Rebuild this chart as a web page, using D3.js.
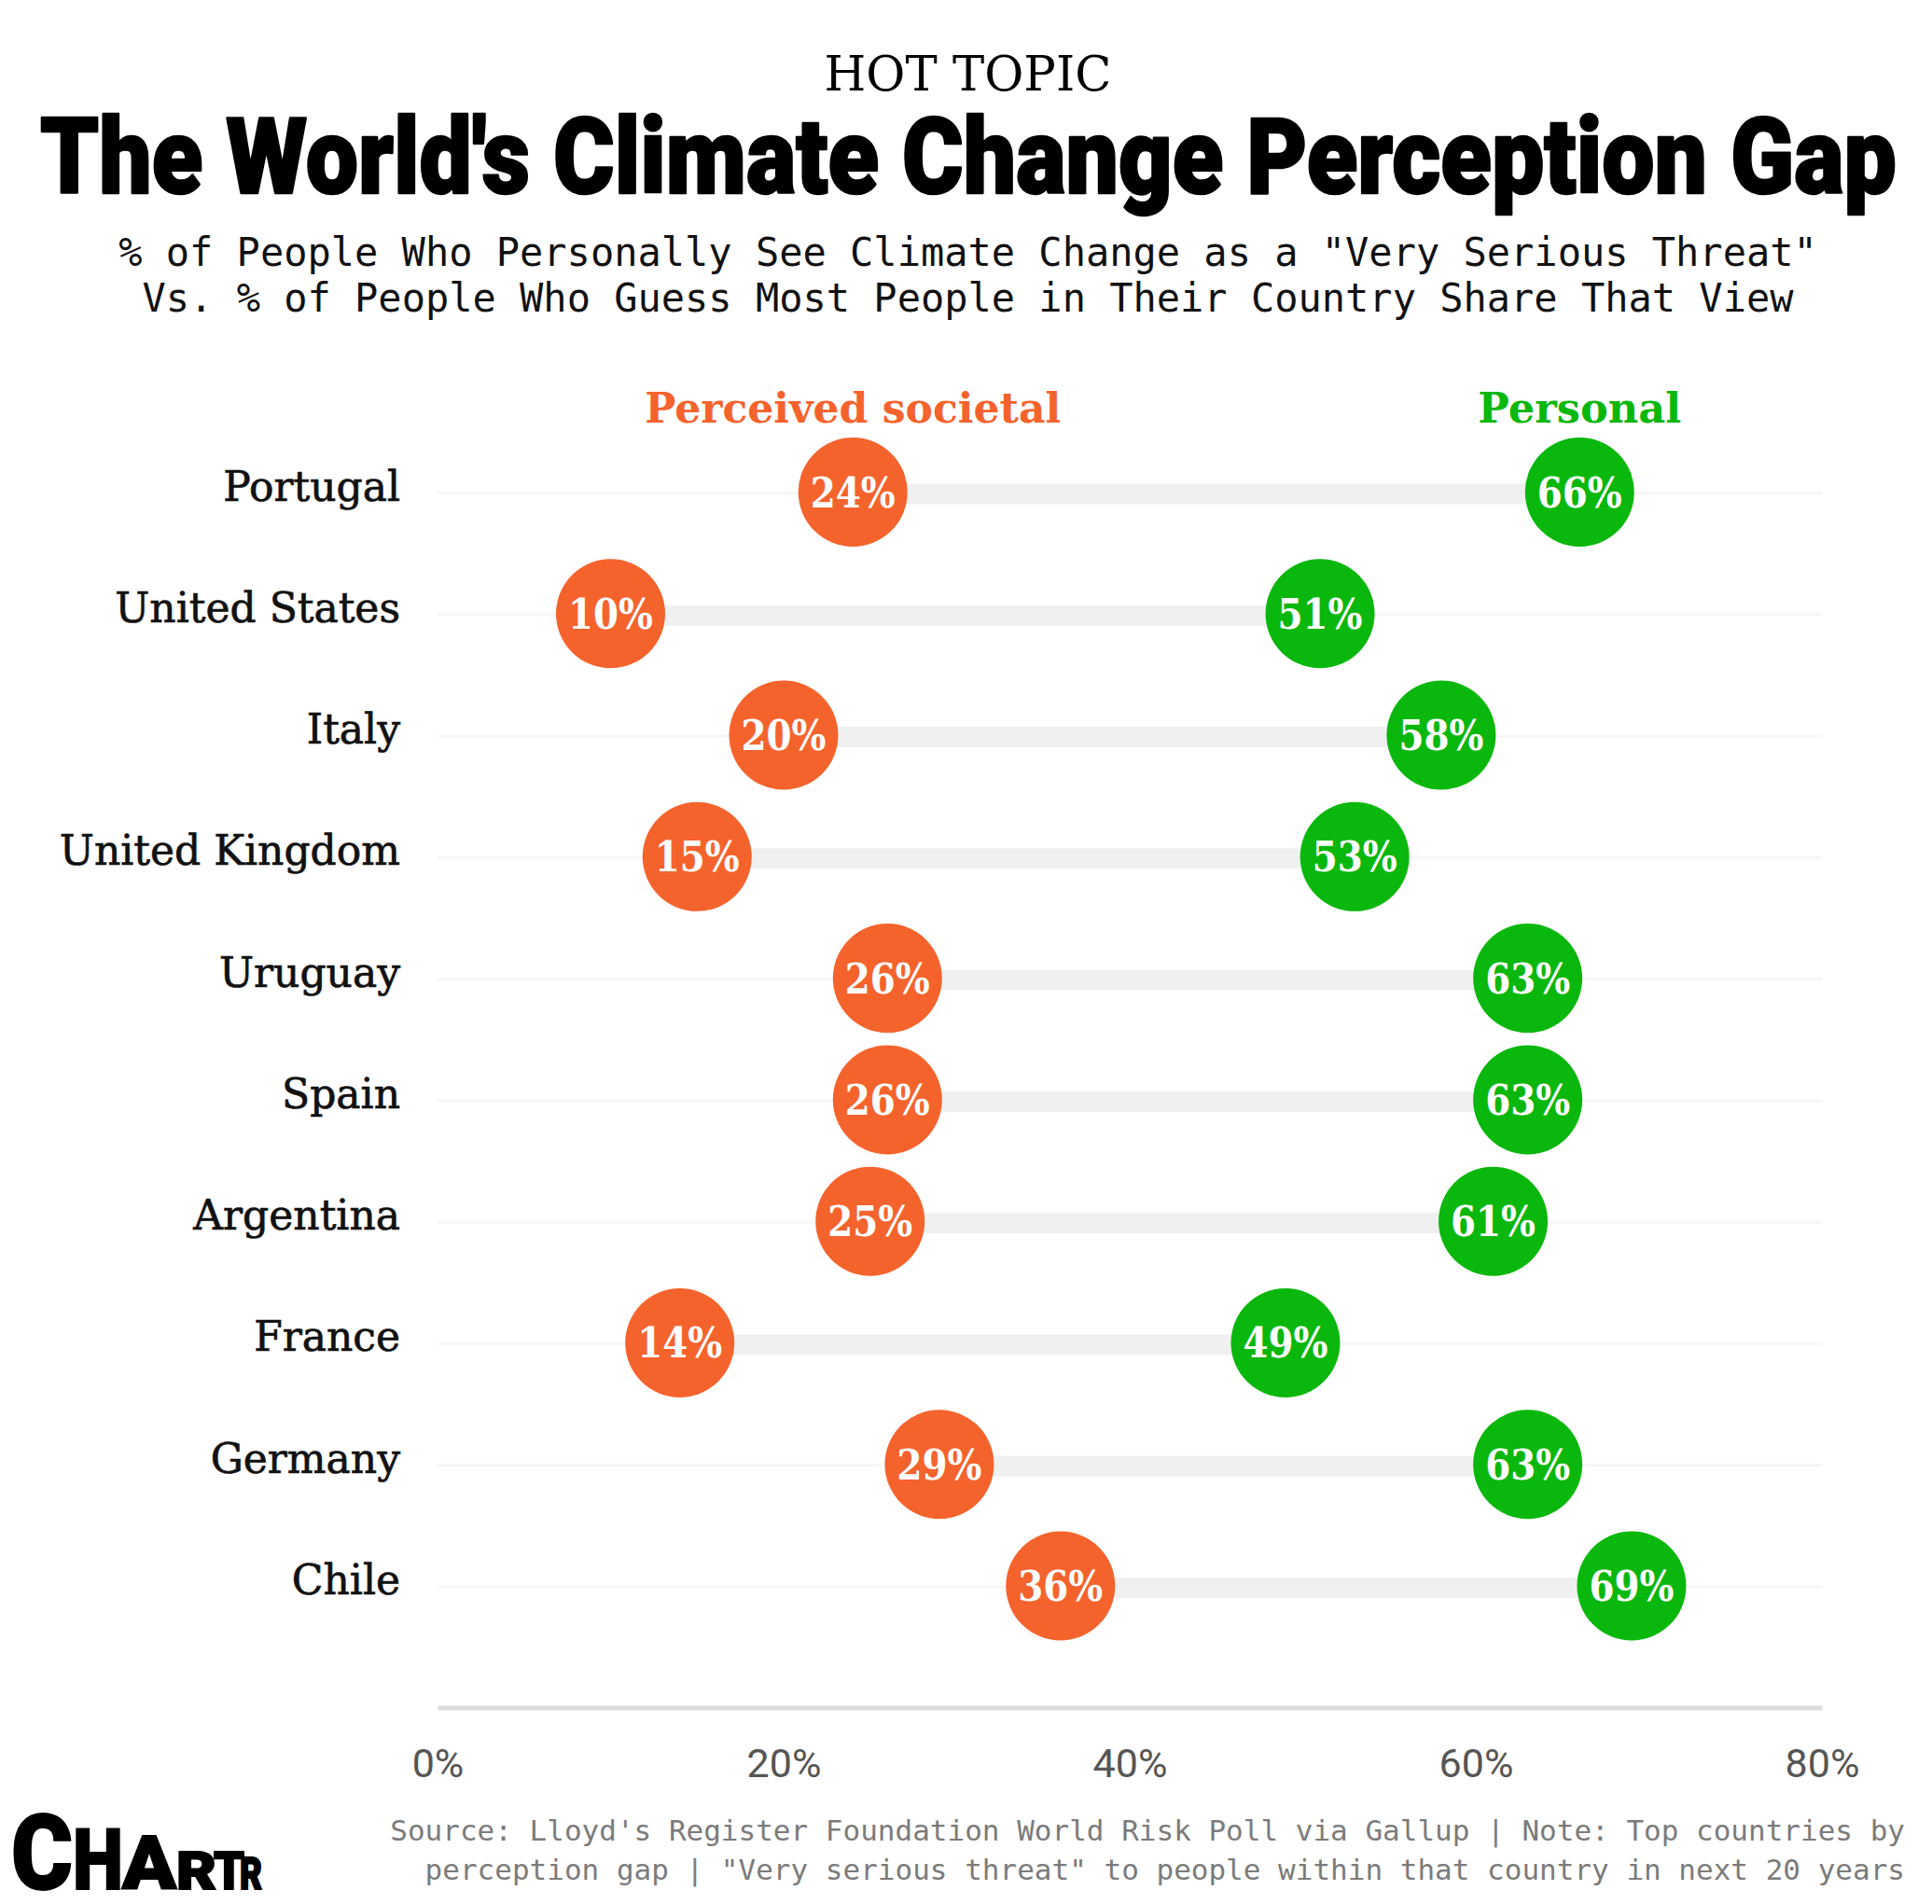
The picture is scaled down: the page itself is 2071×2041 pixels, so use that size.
<!DOCTYPE html>
<html>
<head>
<meta charset="utf-8">
<script src="https://cdn.jsdelivr.net/npm/d3@7"></script>
<style>
  body { margin: 0; background: #fff; }
  svg { display: block; }
</style>
</head>
<body>
<svg id="chart"></svg>
<script>
// data
const countries = ["Portugal", "United States", "Italy", "United Kingdom", "Uruguay",
                   "Spain", "Argentina", "France", "Germany", "Chile"];
const perceived = [24, 10, 20, 15, 26, 26, 25, 14, 29, 36];
const personal  = [66, 51, 58, 53, 63, 63, 61, 49, 63, 69];
const xTicks = [0, 20, 40, 60, 80];
const seriesNames = ["Perceived societal", "Personal"];

const ORANGE = "#f5632d";
const GREEN = "#0ab70c";

class DumbbellChart {

  constructor(config) {
    this.config = {
      parent: config.parent,
      width: config.width || 2071,
      height: config.height || 2041,
      x0: 469, x1: 1953,
      yTop: 527.5, yBottom: 1700,
      axisY: 1830.5,
      radius: 58.5
    }
    this.init()
  }

  init() {
    let self = this

    self.svg = d3.select(self.config.parent)
      .attr("width", self.config.width)
      .attr("height", self.config.height)

    self.svg.append("rect")
      .attr("width", self.config.width)
      .attr("height", self.config.height)
      .attr("fill", "#fff")

    self.x_scale = d3.scaleLinear()
      .domain([0, 80])
      .range([self.config.x0, self.config.x1])

    self.y_scale = d3.scalePoint()
      .domain(countries)
      .range([self.config.yTop, self.config.yBottom])

    self.rows = countries.map((c, i) => ({ country: c, low: perceived[i], high: personal[i] }))
  }

  // squeeze a text horizontally to a given width with a transform
  squeeze(sel, x, y, width) {
    const w = sel.node().getComputedTextLength()
    sel.attr("transform", `translate(${x},${y}) scale(${width / w},1)`)
  }

  render() {
    let self = this
    const cx = self.config.width / 2 + 2

    // heading block
    self.svg.append("text")
      .attr("x", cx).attr("y", 97)
      .attr("text-anchor", "middle")
      .style("font-family", "'DejaVu Serif', serif")
      .style("font-size", "53px")
      .attr("textLength", 308)
      .attr("lengthAdjust", "spacingAndGlyphs")
      .text("HOT TOPIC")

    const title = self.svg.append("text")
      .style("font-family", "Roboto, 'Liberation Sans', sans-serif")
      .style("font-weight", 900)
      .style("font-size", "113px")
      .attr("stroke", "#000")
      .attr("stroke-width", 2.5)
      .attr("stroke-linejoin", "round")
      .text("The World's Climate Change Perception Gap")
    self.squeeze(title, 43, 207, 1990)

    const sub = [
      '% of People Who Personally See Climate Change as a "Very Serious Threat"',
      'Vs. % of People Who Guess Most People in Their Country Share That View'
    ]
    self.svg.selectAll(".subtitle")
      .data(sub)
      .enter().append("text")
      .attr("class", "subtitle")
      .attr("x", cx)
      .attr("y", (d, i) => 285 + i * 49)
      .attr("text-anchor", "middle")
      .style("font-family", "'DejaVu Sans Mono', monospace")
      .style("font-size", "42px")
      .attr("fill", "#111")
      .text(d => d)

    // faint row guides
    self.svg.selectAll(".guide")
      .data(self.rows)
      .enter().append("line")
      .attr("class", "guide")
      .attr("x1", self.x_scale(0))
      .attr("x2", self.x_scale(80))
      .attr("y1", d => self.y_scale(d.country) + 1)
      .attr("y2", d => self.y_scale(d.country) + 1)
      .attr("stroke", "#f6f6f6")
      .attr("stroke-width", 3)

    // gap bars
    self.svg.selectAll(".gap")
      .data(self.rows)
      .enter().append("rect")
      .attr("class", "gap")
      .attr("x", d => self.x_scale(d.low))
      .attr("width", d => self.x_scale(d.high) - self.x_scale(d.low))
      .attr("y", d => self.y_scale(d.country) - 9)
      .attr("height", 22)
      .attr("fill", "#f0f0f0")

    // country labels
    self.svg.selectAll(".country")
      .data(self.rows)
      .enter().append("text")
      .attr("class", "country")
      .attr("x", 429)
      .attr("y", d => self.y_scale(d.country) + 9)
      .attr("text-anchor", "end")
      .style("font-family", "'DejaVu Serif', serif")
      .style("font-size", "44px")
      .attr("fill", "#111")
      .attr("stroke", "#111")
      .attr("stroke-width", 0.7)
      .text(d => d.country)

    // dots: perceived societal then personal
    const series = [
      { key: "low", color: ORANGE },
      { key: "high", color: GREEN }
    ]
    series.forEach(s => {
      const g = self.svg.append("g")
      g.selectAll("circle")
        .data(self.rows)
        .enter().append("circle")
        .attr("cx", d => self.x_scale(d[s.key]))
        .attr("cy", d => self.y_scale(d.country))
        .attr("r", self.config.radius)
        .attr("fill", s.color)

      g.selectAll("text")
        .data(self.rows)
        .enter().append("text")
        .attr("x", d => self.x_scale(d[s.key]))
        .attr("y", d => self.y_scale(d.country) + 16)
        .attr("text-anchor", "middle")
        .style("font-family", "'DejaVu Serif', serif")
        .style("font-weight", "bold")
        .style("font-size", "44px")
        .attr("textLength", 91)
        .attr("lengthAdjust", "spacingAndGlyphs")
        .attr("fill", "#fff")
        .text(d => d[s.key] + "%")
    })

    // series labels sit above the first row's dots
    const first = self.rows[0]
    self.svg.selectAll(".legend")
      .data(seriesNames)
      .enter().append("text")
      .attr("class", "legend")
      .attr("x", (d, i) => self.x_scale(i === 0 ? first.low : first.high))
      .attr("y", 453)
      .attr("text-anchor", "middle")
      .style("font-family", "'DejaVu Serif', serif")
      .style("font-weight", "bold")
      .style("font-size", "45px")
      .attr("textLength", (d, i) => i === 0 ? 446 : 218)
      .attr("lengthAdjust", "spacingAndGlyphs")
      .attr("fill", (d, i) => i === 0 ? ORANGE : GREEN)
      .text(d => d)

    // x axis
    self.x_axis = d3.axisBottom(self.x_scale)
      .tickValues(xTicks)
      .tickFormat(d => d + "%")
      .tickSize(0)
      .tickPadding(44)

    self.x_axis_group = self.svg.append("g")
      .attr("transform", "translate(0," + self.config.axisY + ")")
      .call(self.x_axis)

    self.x_axis_group.select(".domain")
      .attr("stroke", "#dcdcdc")
      .attr("stroke-width", 5)

    self.x_axis_group.selectAll("text")
      .style("font-family", "Roboto, sans-serif")
      .style("font-size", "43px")
      .attr("fill", "#555")

    // footer
    const notes = [
      "Source: Lloyd's Register Foundation World Risk Poll via Gallup | Note: Top countries by",
      'perception gap | "Very serious threat" to people within that country in next 20 years'
    ]
    self.svg.selectAll(".note")
      .data(notes)
      .enter().append("text")
      .attr("class", "note")
      .attr("x", 2042)
      .attr("y", (d, i) => 1973 + i * 42)
      .attr("text-anchor", "end")
      .style("font-family", "'DejaVu Sans Mono', monospace")
      .style("font-size", "31px")
      .attr("fill", "#7b7b7b")
      .text(d => d)

    // logo: letters shrink left to right
    const logo = [
      { ch: "C", size: 111, x: 12, w: 66 },
      { ch: "H", size: 90, x: 78, w: 54 },
      { ch: "A", size: 80, x: 131, w: 58 },
      { ch: "R", size: 56, x: 189, w: 43 },
      { ch: "T", size: 55, x: 229, w: 33 },
      { ch: "R", size: 48, x: 257, w: 24 }
    ]
    const lg = self.svg.append("g")
    logo.forEach(l => {
      const t = lg.append("text")
        .style("font-family", "Roboto, 'Liberation Sans', sans-serif")
        .style("font-weight", 900)
        .style("font-size", l.size + "px")
        .attr("stroke", "#000")
        .attr("stroke-width", 2)
        .text(l.ch)
      self.squeeze(t, l.x, 2025, l.w)
    })
  }

}

const chart = new DumbbellChart({ parent: "#chart" })
chart.render()
</script>
</body>
</html>
